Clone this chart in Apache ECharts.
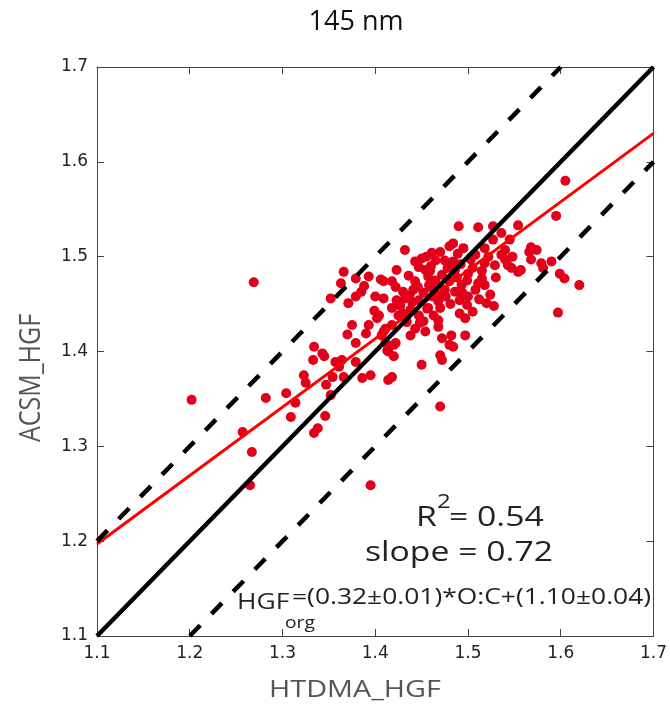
<!DOCTYPE html>
<html>
<head>
<meta charset="utf-8">
<script src="https://cdn.jsdelivr.net/npm/echarts@6/dist/echarts.min.js"></script>
<style>html,body{margin:0;padding:0;background:#fff;}#c{width:670px;height:706px;}</style>
</head>
<body>
<div id="c"></div>
<script>
// ---- data ----
const xTicks = [1.1, 1.2, 1.3, 1.4, 1.5, 1.6, 1.7];
const yTicks = [1.1, 1.2, 1.3, 1.4, 1.5, 1.6, 1.7];
const htdmaHGF = [
1.269,1.366,1.363,1.379,1.393,1.409,1.388,1.385,1.379,1.400,1.409,1.352,1.371,1.399,1.402,1.393,1.375,1.370,1.390,1.379,1.334,
1.595,1.490,1.511,1.527,1.554,1.536,1.527,1.545,1.484,1.495,1.432,1.480,1.518,1.540,1.568,1.574,1.566,1.568,1.461,1.450,1.443,
1.465,1.475,1.484,1.508,1.522,1.536,1.518,1.529,1.543,1.547,1.554,1.557,1.579,1.581,1.590,1.599,1.604,1.620,1.447,1.454,1.423,
1.406,1.418,1.422,1.443,1.457,1.472,1.486,1.500,1.499,1.493,1.515,1.511,1.518,1.508,1.486,1.475,1.461,1.441,1.430,1.432,1.423,
1.447,1.468,1.491,1.499,1.524,1.520,1.418,1.438,1.457,1.470,1.404,1.425,1.447,1.463,1.491,1.497,1.597,1.418,1.434,1.448,1.468,
1.411,1.443,1.454,1.438,1.497,1.482,1.472,1.422,1.480,1.484,1.411,1.420,1.414,1.420,1.470,1.472,1.450,1.418,1.414,1.470,1.407,
1.343,1.345,1.333,1.357,1.364,1.379,1.361,1.323,1.354,1.366,1.386,1.395,1.325,1.347,1.304,1.282,1.314,1.352,1.202,1.309,1.346,
1.338,1.334,1.257,1.267,1.265,1.395,1.409,1.413,1.605,
1.455,1.470,1.460,1.478,1.492,1.465,1.480,1.452,1.440,1.456,1.476,1.462,1.430,1.505,1.500,1.512,1.528,1.505,
1.436,1.446,1.458,1.470,1.488,1.503,1.515,1.530,1.468,1.481,1.494,1.452,1.437,1.427,1.459,1.489,1.540,1.548
];
const acsmHGF = [
1.473,1.484,1.472,1.477,1.479,1.474,1.469,1.463,1.458,1.458,1.456,1.456,1.451,1.443,1.435,1.428,1.428,1.418,1.419,1.409,1.405,
1.543,1.532,1.531,1.532,1.533,1.525,1.518,1.518,1.514,1.509,1.507,1.511,1.509,1.507,1.510,1.507,1.505,1.497,1.504,1.498,1.495,
1.496,1.496,1.495,1.502,1.500,1.502,1.493,1.491,1.491,1.488,1.484,1.486,1.493,1.488,1.495,1.482,1.477,1.470,1.489,1.486,1.486,
1.476,1.474,1.468,1.474,1.479,1.481,1.486,1.482,1.475,1.470,1.477,1.472,1.470,1.465,1.463,1.465,1.467,1.465,1.463,1.456,1.454,
1.454,1.453,1.454,1.449,1.460,1.451,1.446,1.444,1.446,1.446,1.438,1.438,1.438,1.438,1.440,1.435,1.441,1.428,1.431,1.430,1.433,
1.424,1.424,1.421,1.417,1.417,1.417,1.414,1.409,1.407,1.405,1.409,1.407,1.400,1.395,1.396,1.391,1.386,1.373,1.370,1.342,1.417,
1.398,1.395,1.391,1.389,1.391,1.389,1.384,1.375,1.373,1.373,1.372,1.375,1.367,1.365,1.356,1.351,1.346,1.354,1.349,1.331,1.332,
1.319,1.314,1.315,1.294,1.259,1.259,1.421,1.401,1.580,
1.500,1.505,1.490,1.488,1.492,1.475,1.474,1.462,1.452,1.445,1.458,1.458,1.440,1.488,1.458,1.455,1.448,1.442,
1.480,1.468,1.470,1.460,1.478,1.497,1.485,1.478,1.426,1.450,1.462,1.432,1.459,1.448,1.485,1.503,1.497,1.500
];
const oneToOne   = [[1.1, 1.1], [1.7, 1.7]];
const upperBound = [[1.1, 1.2], [1.6, 1.7]];
const lowerBound = [[1.2, 1.1], [1.7, 1.6]];
const fitLine    = [[1.1, 1.197], [1.7, 1.630]];
const titleText = '145 nm';
const xName = 'HTDMA_HGF';
const yName = 'ACSM_HGF';

const points = htdmaHGF.map((x, i) => [x, acsmHGF[i]]);

const chart = echarts.init(document.getElementById('c'), null, {renderer: 'canvas'});
const fmt = v => v.toFixed(1);
const axisCommon = {
  type: 'value', min: 1.1, max: 1.7, interval: 0.1,
  axisLine: {show: true, lineStyle: {color: '#444', width: 1}},
  axisTick: {show: true, inside: true, length: 7, lineStyle: {color: '#444', width: 1}},
  splitLine: {show: false}
};
const labelStyle = {color: '#222', fontSize: 17, fontFamily: 'DejaVu Sans', formatter: fmt};
const textFont = 'Open Sans';

chart.setOption({
  animation: false,
  backgroundColor: '#fff',
  grid: {left: 97, top: 67, right: 14, bottom: 70, containLabel: false},
  xAxis: [
    Object.assign({}, axisCommon, {position: 'bottom', axisLabel: Object.assign({margin: 9}, labelStyle)}),
    Object.assign({}, axisCommon, {position: 'top', axisLabel: {show: false}})
  ],
  yAxis: [
    Object.assign({}, axisCommon, {position: 'left', axisLabel: Object.assign({margin: 9}, labelStyle)}),
    Object.assign({}, axisCommon, {position: 'right', axisLabel: {show: false}})
  ],
  series: [
    {type: 'scatter', data: points, symbol: 'circle', symbolSize: 10,
     itemStyle: {color: '#e2001a', opacity: 1}, z: 2},
    {type: 'line', data: fitLine, showSymbol: false, symbol: 'none',
     lineStyle: {color: '#ff0000', width: 3}, z: 3},
    {type: 'line', data: oneToOne, showSymbol: false, symbol: 'none',
     lineStyle: {color: '#000', width: 4.5}, z: 4},
    {type: 'line', data: upperBound, showSymbol: false, symbol: 'none',
     lineStyle: {color: '#000', width: 4.5, type: [15, 16]}, z: 4},
    {type: 'line', data: lowerBound, showSymbol: false, symbol: 'none',
     lineStyle: {color: '#000', width: 4.5, type: [15, 16]}, z: 4}
  ],
  graphic: [
    {type: 'text', x: 356, y: 22, style: {text: titleText, fontSize: 27, fontFamily: textFont, fill: '#111', textAlign: 'center', textVerticalAlign: 'middle'}},
    {type: 'text', x: 355, y: 690, scaleX: 1.2, style: {text: xName, fontSize: 24, fontFamily: textFont, fill: '#555', textAlign: 'center', textVerticalAlign: 'middle'}},
    {type: 'text', x: 31, y: 378, rotation: Math.PI / 2, scaleY: 1.2, style: {text: yName, fontSize: 25, fontFamily: textFont, fill: '#555', textAlign: 'center', textVerticalAlign: 'middle'}},
    {type: 'text', x: 416, y: 518, scaleX: 1.25, style: {text: 'R', fontSize: 27, fontFamily: textFont, fill: '#222', textAlign: 'left', textVerticalAlign: 'middle'}},
    {type: 'text', x: 437, y: 502, scaleX: 1.2, style: {text: '2', fontSize: 20, fontFamily: textFont, fill: '#222', textAlign: 'left', textVerticalAlign: 'middle'}},
    {type: 'text', x: 449, y: 518, scaleX: 1.25, style: {text: '= 0.54', fontSize: 27, fontFamily: textFont, fill: '#222', textAlign: 'left', textVerticalAlign: 'middle'}},
    {type: 'text', x: 459, y: 553, scaleX: 1.25, style: {text: 'slope = 0.72', fontSize: 27, fontFamily: textFont, fill: '#222', textAlign: 'center', textVerticalAlign: 'middle'}},
    {type: 'text', x: 237, y: 603, scaleX: 1.2, style: {text: 'HGF', fontSize: 22, fontFamily: textFont, fill: '#222', textAlign: 'left', textVerticalAlign: 'middle'}},
    {type: 'text', x: 285, y: 623, scaleX: 1.2, style: {text: 'org', fontSize: 16, fontFamily: textFont, fill: '#222', textAlign: 'left', textVerticalAlign: 'middle'}},
    {type: 'text', x: 292, y: 598, scaleX: 1.2, style: {text: '=(0.32±0.01)*O:C+(1.10±0.04)', fontSize: 22, fontFamily: textFont, fill: '#222', textAlign: 'left', textVerticalAlign: 'middle'}}
  ]
});
</script>
</body>
</html>
